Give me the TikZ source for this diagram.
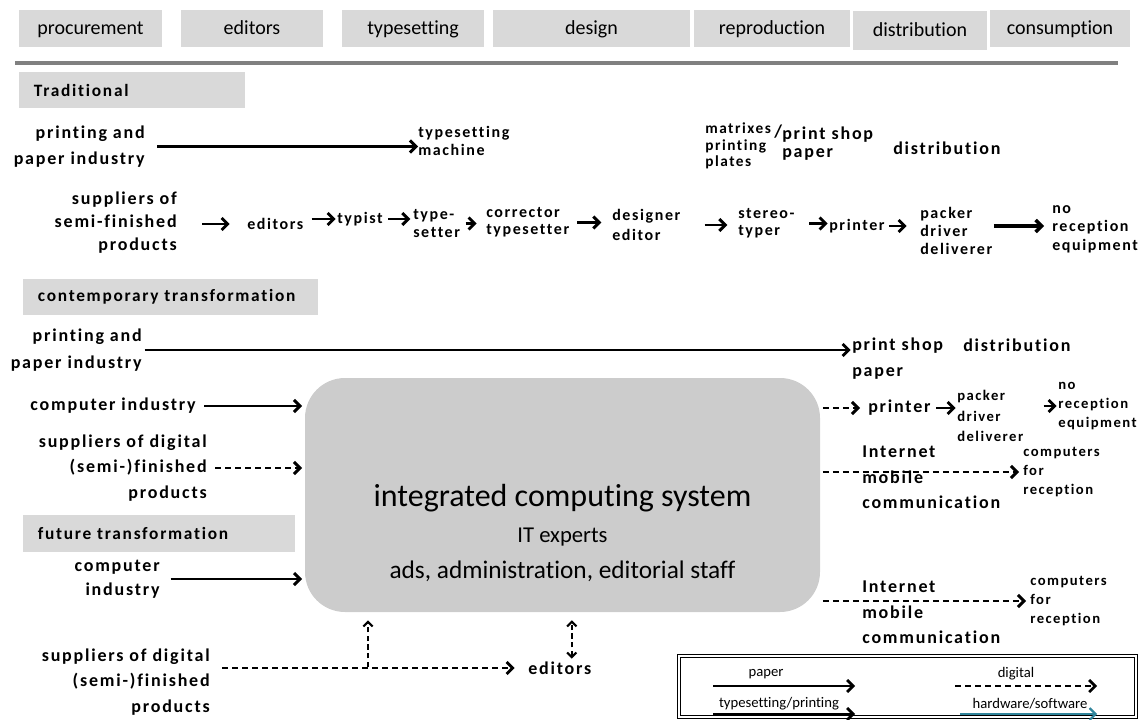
\documentclass[tikz,border=0pt]{standalone}
\usepackage{fontspec}
\setmainfont{Carlito}[Ligatures=CommonOff]
\newfontfamily\lblfont[LetterSpace=10,Ligatures=CommonOff]{Carlito}
\usepackage{xcolor}
\usetikzlibrary{arrows.meta}

\definecolor{boxgray}{RGB}{217,217,217}
\definecolor{sysgray}{RGB}{204,204,204}
\definecolor{rulegray}{RGB}{128,128,128}
\definecolor{hwteal}{RGB}{49,133,156}

\begin{document}
\begin{tikzpicture}[x=0.75pt,y=0.75pt,yscale=-1,xscale=1,
  >={Straight Barb[length=4.5pt,width=9pt]},
  hdr/.style={fill=boxgray, inner sep=0pt, minimum height=27.75pt, text height=11.5pt, text depth=2.5pt, font=\fontsize{15}{17}\selectfont},
  sec/.style={fill=boxgray, anchor=north west, inner xsep=11pt, inner ysep=0pt, minimum height=27pt, align=left, font=\lblfont\bfseries\fontsize{13}{15}\selectfont},
  lbl/.style={inner sep=0pt, font=\lblfont\bfseries\fontsize{13.5}{20}\selectfont},
  slbl/.style={inner sep=0pt, font=\lblfont\bfseries\fontsize{12}{13}\selectfont},
  xlbl/.style={inner sep=0pt, font=\lblfont\bfseries\fontsize{11}{14}\selectfont},
  arr/.style={line width=2.2pt, ->},
  sarr/.style={line width=2.2pt, ->},
  darr/.style={line width=2.2pt, ->, dash pattern=on 4.5pt off 3pt},
  varr/.style={line width=1.6pt, dash pattern=on 4pt off 2.5pt, >={Straight Barb[length=3.5pt,width=7pt]}},
  leg/.style={inner sep=0pt, font=\fontsize{11}{13}\selectfont},
  larr/.style={line width=2pt, ->}
]
\useasboundingbox (0,0) rectangle (1145,720);

% stage headers
\node[hdr, minimum width=107.25pt] (hproc) at (90.5,28.5) {procurement};
\node[hdr, minimum width=106.5pt] (hedit) at (252,28.5) {editors};
\node[hdr, minimum width=106.5pt] (htype) at (413,28.5) {typesetting};
\node[hdr, minimum width=147.75pt] (hdes) at (591.5,28.5) {design};
\node[hdr, minimum width=117pt] (hrep) at (772,28.5) {reproduction};
\node[hdr, minimum width=100.5pt, minimum height=29.25pt] (hdist) at (920,30.5) {distribution};
\node[hdr, minimum width=105pt] (hcons) at (1060,28.5) {consumption};
\draw[rulegray, line width=3pt] (15,63) -- (1118,63);

% traditional
\node[sec, text width=147.5pt] (trad) at (19,72) {Traditional};
\node[lbl, anchor=east, align=right] (pp1) at (145,146.5) {printing and\\paper industry};
\node[slbl, anchor=west, align=left] (tsm) at (418,141) {typesetting\\machine};
\draw[arr, shorten <=9pt] (pp1.east) -- (pp1.east -| tsm.west);
\node[slbl, anchor=west, align=left, font=\lblfont\bfseries\fontsize{11.5}{12.4}\selectfont] (mat) at (705,146) {matrixes\\printing\\plates};
\node[lbl, anchor=west] (slash) at (774,132) {/};
\node[lbl, anchor=west, align=left, font=\lblfont\bfseries\fontsize{13.5}{13}\selectfont] (psp1) at (782,143.5) {print shop\\paper};
\node[lbl, anchor=west] (dis1) at (893,148) {distribution};

\node[lbl, anchor=east, align=right, font=\lblfont\bfseries\fontsize{13.5}{17}\selectfont] (sup1) at (177,222.5) {suppliers of\\semi-finished\\products};
\node[slbl, anchor=west] (ed1) at (247,224) {editors};
\node[slbl, anchor=west] (typ1) at (337,219) {typist};
\node[slbl, anchor=west, align=left] (tse1) at (413,223.5) {type-\\setter};
\node[slbl, anchor=west, align=left] (cor1) at (486,222.5) {corrector\\typesetter};
\node[slbl, anchor=west, align=left, font=\lblfont\bfseries\fontsize{12}{15}\selectfont] (des1) at (612,225) {designer\\editor};
\node[slbl, anchor=west, align=left] (ste1) at (738,223.5) {stereo-\\typer};
\node[slbl, anchor=west] (prn1) at (829,226) {printer};
\node[slbl, anchor=west, align=left, font=\lblfont\bfseries\fontsize{12}{13.5}\selectfont] (pck1) at (920,230.5) {packer\\driver\\deliverer};
\node[slbl, anchor=west, align=left, font=\lblfont\bfseries\fontsize{12}{14}\selectfont] (nre1) at (1052,229) {no\\reception\\equipment};
\draw[sarr, shorten <=19pt, shorten >=13pt] (sup1.east |- ed1.west) -- (ed1.west);
\draw[sarr, shorten <=6pt, shorten >=1pt] (ed1.east |- typ1.west) -- (typ1.west);
\draw[sarr, shorten <=4pt, shorten >=2pt] (typ1.east) -- (typ1.east -| tse1.west);
\draw[sarr, shorten <=4pt, shorten >=7pt] (tse1.east) -- (tse1.east -| cor1.west);
\draw[sarr, shorten <=6pt, shorten >=8pt] (cor1.east) -- (cor1.east -| des1.west);
\draw[sarr, shorten <=18pt, shorten >=8pt] (des1.east) -- (des1.east -| ste1.west);
\draw[sarr, shorten <=11pt, shorten >=1pt] (ste1.east) -- (ste1.east -| prn1.west);
\draw[sarr, shorten <=3pt, shorten >=10pt] (prn1.east) -- (prn1.east -| pck1.west);
\draw[arr, line width=2.6pt, shorten <=1pt, shorten >=6pt] (pck1.east |- prn1.east) -- (prn1.east -| nre1.west);

% contemporary transformation
\node[sec, text width=199.25pt] (cont) at (23,279) {contemporary transformation};
\node[lbl, anchor=east, align=right] (pp2) at (142,350) {printing and\\paper industry};
\node[lbl, anchor=west, align=left] (psp2) at (852,358.5) {print shop\\paper};
\node[lbl, anchor=west] (dis2) at (963,345) {distribution};
\draw[arr, shorten <=2pt, shorten >=1pt] (pp2.east) -- (pp2.east -| psp2.west);

\node[lbl, anchor=east] (ci1) at (196,406) {computer industry};
\node[lbl, anchor=east, align=right, font=\lblfont\bfseries\fontsize{13.5}{19}\selectfont] (sd1) at (207,468) {suppliers of digital\\(semi-)finished\\products};

\node[fill=sysgray, rounded corners=30pt, minimum width=386.25pt, minimum height=175.5pt, inner sep=0pt] (ics) at (562.5,495) {};
\node[align=center, inner sep=0pt, font=\fontsize{19}{27}\selectfont] (icst) at (562.5,533) {{\fontsize{24}{27}\selectfont integrated computing system}\\{\fontsize{17}{27}\selectfont IT experts}\\ads, administration, editorial staff};

\draw[arr, shorten <=6pt, shorten >=2pt] (ci1.east) -- (ci1.east -| ics.west);
\draw[darr, shorten <=6pt, shorten >=2pt] (sd1.east) -- (sd1.east -| ics.west);

\node[lbl, anchor=west] (prn2) at (868,408) {printer};
\node[xlbl, anchor=west, align=left, font=\lblfont\bfseries\fontsize{11}{15.5}\selectfont] (pck2) at (957,416) {packer\\driver\\deliverer};
\node[xlbl, anchor=west, align=left] (nre2) at (1058,406) {no\\reception\\equipment};
\draw[darr, shorten <=2pt, shorten >=6pt] (ics.east |- prn2.west) -- (prn2.west);
\draw[sarr, shorten <=4pt, shorten >=1pt] (prn2.east) -- (prn2.east -| pck2.west);
\draw[sarr, shorten <=15pt, shorten >=1pt] (pck2.east |- nre2.west) -- (nre2.west);

\node[lbl, anchor=west, align=left, font=\lblfont\bfseries\fontsize{13.5}{19}\selectfont] (int1) at (862,477.5) {Internet\\mobile\\communication};
\node[xlbl, anchor=west, align=left] (cfr1) at (1023,472) {computers\\for\\reception};
\draw[darr, shorten <=2pt, shorten >=3pt] (ics.east |- cfr1.west) -- (cfr1.west);

% future transformation
\node[sec, text width=182pt, minimum height=27.75pt] (fut) at (23,515) {future transformation};
\node[lbl, anchor=east, align=right, font=\lblfont\bfseries\fontsize{13.5}{18}\selectfont] (ci2) at (160,579) {computer\\industry};
\draw[arr, shorten <=8pt, shorten >=2pt] (ci2.east) -- (ci2.east -| ics.west);

\node[lbl, anchor=west, align=left, font=\lblfont\bfseries\fontsize{13.5}{19}\selectfont] (int2) at (862,612.5) {Internet\\mobile\\communication};
\node[xlbl, anchor=west, align=left] (cfr2) at (1030,601) {computers\\for\\reception};
\draw[darr, shorten <=2pt, shorten >=3pt] (ics.east |- cfr2.west) -- (cfr2.west);

\node[lbl, anchor=east, align=right, font=\lblfont\bfseries\fontsize{13.5}{19}\selectfont] (sd2) at (210,682) {suppliers of digital\\(semi-)finished\\products};
\node[lbl, anchor=west] (ed2) at (528,668) {editors};
\draw[darr, shorten <=9pt, shorten >=10pt] (sd2.east |- ed2.west) -- (ed2.west);
\coordinate (split) at (368,667);
\draw[varr, ->, shorten >=6pt] (split) -- (split |- ics.south);
\draw[varr, <->, shorten >=6pt, shorten <=2pt] ([xshift=9pt]ed2.north) -- ([xshift=9pt]ed2.north |- ics.south);

% legend
\node[draw, double, double distance=1.5pt, line width=0.7pt, minimum width=343pt, minimum height=46pt, inner sep=0pt] (lgd) at (907.5,686.5) {};
\node[leg] (lpap) at (766,674) {paper};
\node[leg] (ldig) at (1016,674) {digital};
\node[leg] (ltyp) at (779,704) {typesetting/printing};
\node[leg] (lhw) at (1030,704) {hardware/software};
\coordinate (lp0) at (713,686);
\coordinate (lp1) at (855,686);
\coordinate (ld0) at (955,686);
\coordinate (ld1) at (1097,686);
\coordinate (lt0) at (713,714);
\coordinate (lt1) at (855,714);
\coordinate (lh0) at (960,714);
\coordinate (lh1) at (1097,714);
\draw[larr] (lp0) -- (lp1);
\draw[larr, dash pattern=on 4.5pt off 3pt] (ld0) -- (ld1);
\draw[larr] (lt0) -- (lt1);
\draw[larr, hwteal, line width=1.6pt] (lh0) -- (lh1);

\end{tikzpicture}
\end{document}
